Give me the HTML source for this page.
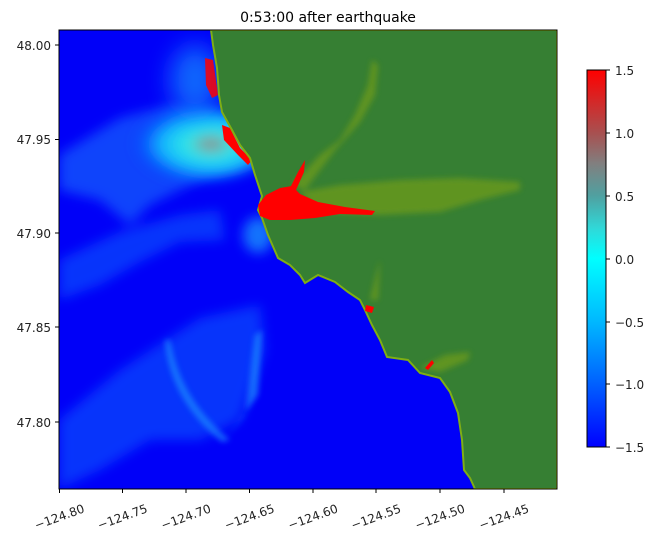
<!DOCTYPE html>
<html><head><style>
body{margin:0;background:#fff;width:658px;height:541px;overflow:hidden;font-family:"Liberation Sans","DejaVu Sans",sans-serif}
</style></head><body>
<svg width="658" height="541" viewBox="0 0 658 541" xmlns="http://www.w3.org/2000/svg" font-family="DejaVu Sans, Liberation Sans, sans-serif">
<defs>
<clipPath id="cp"><rect x="59" y="30" width="498" height="459"/></clipPath>
<filter id="b6" x="-50%" y="-50%" width="200%" height="200%"><feGaussianBlur stdDeviation="6"/></filter>
<filter id="b3" x="-50%" y="-50%" width="200%" height="200%"><feGaussianBlur stdDeviation="3"/></filter>
<filter id="b12" x="-100%" y="-100%" width="300%" height="300%"><feGaussianBlur stdDeviation="12"/></filter>
<radialGradient id="glow" cx="0.6" cy="0.55" r="0.5">
<stop offset="0" stop-color="#a08080"/><stop offset="0.3" stop-color="#30e8e8"/><stop offset="0.65" stop-color="#10b0ff"/><stop offset="1" stop-color="#0040ff" stop-opacity="0"/>
</radialGradient>
<linearGradient id="cb" x1="0" y1="0" x2="0" y2="1">
<stop offset="0" stop-color="#ff0000"/><stop offset="0.167" stop-color="#a85050"/><stop offset="0.25" stop-color="#808080"/><stop offset="0.333" stop-color="#50a0a0"/><stop offset="0.42" stop-color="#30d8d8"/><stop offset="0.5" stop-color="#00ffff"/><stop offset="0.667" stop-color="#00b8ff"/><stop offset="0.833" stop-color="#0060ff"/><stop offset="1" stop-color="#0000ff"/>
</linearGradient>
</defs>
<text x="328" y="22" font-size="14" text-anchor="middle" fill="#000">0:53:00 after earthquake</text>
<g clip-path="url(#cp)">
<rect x="59" y="30" width="498" height="459" fill="#0000f8"/>
<g filter="url(#b6)" opacity="0.55">
<path d="M59,155 L120,118 L170,105 L215,110 L240,165 L200,180 L150,205 L130,225 L100,200 L59,190Z" fill="#1a7cff"/>
<path d="M59,260 L120,232 L180,215 L220,210 L225,240 L180,242 L140,262 L100,285 L59,300Z" fill="#1060ff"/>
<path d="M59,420 L120,370 L200,318 L260,305 L265,350 L240,420 L200,440 L150,440 L100,470 L59,489Z" fill="#1060ff"/>
</g>
<g filter="url(#b3)" opacity="0.6">
<path d="M225,440 L245,415 L255,335 L262,330 L258,395 Z" fill="#20a0ff"/>
<path d="M170,340 Q180,400 230,440 L222,442 Q170,400 165,340Z" fill="#20a0ff"/>
</g>
<ellipse cx="195" cy="140" rx="80" ry="42" fill="url(#glow)" filter="url(#b6)"/>
<ellipse cx="195" cy="80" rx="25" ry="35" fill="#1890ff" filter="url(#b12)" opacity="0.7"/>
<ellipse cx="258" cy="235" rx="15" ry="18" fill="#20c0ff" filter="url(#b6)" opacity="0.6"/>
<path d="M205,58 L213,60 L218,95 L212,98 L206,85Z" fill="#ff0000" opacity="0.85"/>
<path d="M222,125 L230,128 L240,148 L252,160 L248,165 L238,155 L224,140Z" fill="#ff0000"/>
<path d="M211,30 L557,30 L557,489 L475,489 L470,478 L464,470 L462,440 L458,413 L450,392 L440,378 L420,373 L408,360 L387,357 L380,340 L372,325 L365,310 L360,300 L348,292 L335,282 L318,275 L305,283 L300,275 L290,265 L278,258 L268,235 L262,218 L258,210 L262,196 L255,175 L250,158 L240,145 L232,130 L222,112 L219,95 L217,68 L213,45Z" fill="#367f33" stroke="#7fae14" stroke-width="2"/>
<g filter="url(#b3)" fill="#6a9a1a" opacity="0.8">
<path d="M300,192 L340,185 L400,180 L460,178 L520,182 L520,190 L480,200 L440,212 L380,215 L320,212Z"/>
<path d="M292,185 L320,155 L340,140 L355,115 L368,85 L372,60 L378,65 L375,95 L360,122 L335,150 L305,190Z"/>
<path d="M370,300 L376,275 L380,260 L378,300Z"/>
<path d="M420,368 L445,355 L470,352 L468,360 L440,372Z"/>
</g>
<path d="M258,205 L266,195 L280,188 L292,186 L300,194 L318,202 L345,207 L375,211 L372,215 L340,214 L315,218 L290,220 L270,220 L260,216Z" fill="#ff0000"/>
<path d="M290,188 L298,172 L305,160 L304,172 L296,190Z" fill="#ff0000"/>
<path d="M366,305 L374,307 L372,313 L365,311Z" fill="#ff0000"/>
<path d="M425,368 L432,360 L434,363 L428,370Z" fill="#ff0000"/>
</g>
<rect x="59" y="30" width="498" height="459" fill="none" stroke="#000" stroke-width="1"/>
<g font-size="12" fill="#222" text-anchor="end">
<line x1="55" y1="45" x2="59" y2="45" stroke="#000"/><text x="51" y="50">48.00</text>
<line x1="55" y1="139.5" x2="59" y2="139.5" stroke="#000"/><text x="51" y="144">47.95</text>
<line x1="55" y1="233" x2="59" y2="233" stroke="#000"/><text x="51" y="238">47.90</text>
<line x1="55" y1="327" x2="59" y2="327" stroke="#000"/><text x="51" y="332">47.85</text>
<line x1="55" y1="422" x2="59" y2="422" stroke="#000"/><text x="51" y="427">47.80</text>
</g>
<g font-size="12" fill="#222" text-anchor="middle">
<g transform="translate(59.5,489)"><line y2="4" stroke="#000"/><text transform="translate(0,28) rotate(-20)" y="4">−124.80</text></g>
<g transform="translate(122.5,489)"><line y2="4" stroke="#000"/><text transform="translate(0,28) rotate(-20)" y="4">−124.75</text></g>
<g transform="translate(186,489)"><line y2="4" stroke="#000"/><text transform="translate(0,28) rotate(-20)" y="4">−124.70</text></g>
<g transform="translate(249.5,489)"><line y2="4" stroke="#000"/><text transform="translate(0,28) rotate(-20)" y="4">−124.65</text></g>
<g transform="translate(313,489)"><line y2="4" stroke="#000"/><text transform="translate(0,28) rotate(-20)" y="4">−124.60</text></g>
<g transform="translate(376,489)"><line y2="4" stroke="#000"/><text transform="translate(0,28) rotate(-20)" y="4">−124.55</text></g>
<g transform="translate(440,489)"><line y2="4" stroke="#000"/><text transform="translate(0,28) rotate(-20)" y="4">−124.50</text></g>
<g transform="translate(504,489)"><line y2="4" stroke="#000"/><text transform="translate(0,28) rotate(-20)" y="4">−124.45</text></g>
</g>
<rect x="587" y="70" width="19" height="377" fill="url(#cb)" stroke="#000" stroke-width="1"/>
<g font-size="12" fill="#222">
<line x1="606" y1="70" x2="610" y2="70" stroke="#000"/><text x="615" y="75">1.5</text>
<line x1="606" y1="133" x2="610" y2="133" stroke="#000"/><text x="615" y="138">1.0</text>
<line x1="606" y1="196" x2="610" y2="196" stroke="#000"/><text x="615" y="201">0.5</text>
<line x1="606" y1="259" x2="610" y2="259" stroke="#000"/><text x="615" y="264">0.0</text>
<line x1="606" y1="322" x2="610" y2="322" stroke="#000"/><text x="615" y="327">−0.5</text>
<line x1="606" y1="384" x2="610" y2="384" stroke="#000"/><text x="615" y="389">−1.0</text>
<line x1="606" y1="447" x2="610" y2="447" stroke="#000"/><text x="615" y="452">−1.5</text>
</g>
</svg>
</body></html>
